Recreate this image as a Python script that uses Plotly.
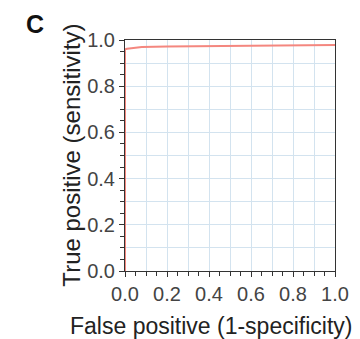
import plotly.graph_objects as go

# ROC curve points
fpr = [0.0, 0.0, 0.01, 0.08, 0.2, 0.5, 0.8, 1.0]
tpr = [0.0, 0.96, 0.962, 0.97, 0.972, 0.975, 0.977, 0.978]

tick_vals = [0.0, 0.2, 0.4, 0.6, 0.8, 1.0]
tick_text = ["0.0", "0.2", "0.4", "0.6", "0.8", "1.0"]

panel_label = "C"
x_title = "False positive (1-specificity)"
y_title = "True positive (sensitivity)"

FONT = "Liberation Sans, Arial"

fig = go.Figure()
fig.add_trace(go.Scatter(x=fpr, y=tpr, mode="lines",
                         line=dict(color="#f4877f", width=2), showlegend=False,
                         cliponaxis=False))

axis_common = dict(
    range=[0, 1], tickmode="array", tickvals=tick_vals, ticktext=tick_text,
    showline=True, linecolor="#333333", linewidth=1, mirror=True,
    ticks="outside", ticklen=5, tickcolor="#333333", tickwidth=1,
    tickfont=dict(family=FONT, size=20, color="#444444"),
    zeroline=False, layer="below traces", ticklabeloverflow="allow",
    showgrid=True, gridcolor="#d3e3ef", gridwidth=1,
    minor=dict(tickmode="linear", dtick=0.05, tick0=0, ticks="outside", ticklen=4,
               tickcolor="#333333", showgrid=False),
)
fig.update_xaxes(**axis_common)
fig.update_yaxes(**axis_common)

# light blue grid every 0.1 through a hidden overlay axis pair
fig.update_layout(
    xaxis2=dict(overlaying="x", range=[0, 1], dtick=0.1, tick0=0, showgrid=True,
                gridcolor="#d3e3ef", showticklabels=False, ticks="", zeroline=False,
                showline=False, layer="below traces", matches="x"),
    yaxis2=dict(overlaying="y", range=[0, 1], dtick=0.1, tick0=0, showgrid=True,
                gridcolor="#d3e3ef", showticklabels=False, ticks="", zeroline=False,
                showline=False, layer="below traces", matches="y"),
)
fig.add_trace(go.Scatter(x=[None], y=[None], xaxis="x2", yaxis="y2", showlegend=False,
                         hoverinfo="skip"))

fig.update_layout(
    width=360, height=339,
    margin=dict(l=125, r=11, t=40, b=68),
    paper_bgcolor="white", plot_bgcolor="white",
    annotations=[
        dict(text=f"<b>{panel_label}</b>", x=(29 - 125) / 224, y=1 + (40 - 24) / 231,
             xref="paper", yref="paper", xanchor="center", yanchor="middle",
             showarrow=False, font=dict(family=FONT, size=25, color="#111111")),
        dict(text=x_title, x=(64 - 125) / 224, y=-(326 - 271) / 231, xref="paper",
             yref="paper", xanchor="left", yanchor="middle", showarrow=False,
             font=dict(family=FONT, size=23, color="#222222")),
        dict(text=y_title, x=-(125 - 67) / 224, y=(271 - 155) / 231, xref="paper",
             yref="paper", xanchor="center", yanchor="middle", textangle=-90,
             showarrow=False, font=dict(family=FONT, size=24, color="#222222")),
    ],
)

fig.write_html("out.html", config={"displayModeBar": False},
               post_script="document.body.style.margin='0px';")
